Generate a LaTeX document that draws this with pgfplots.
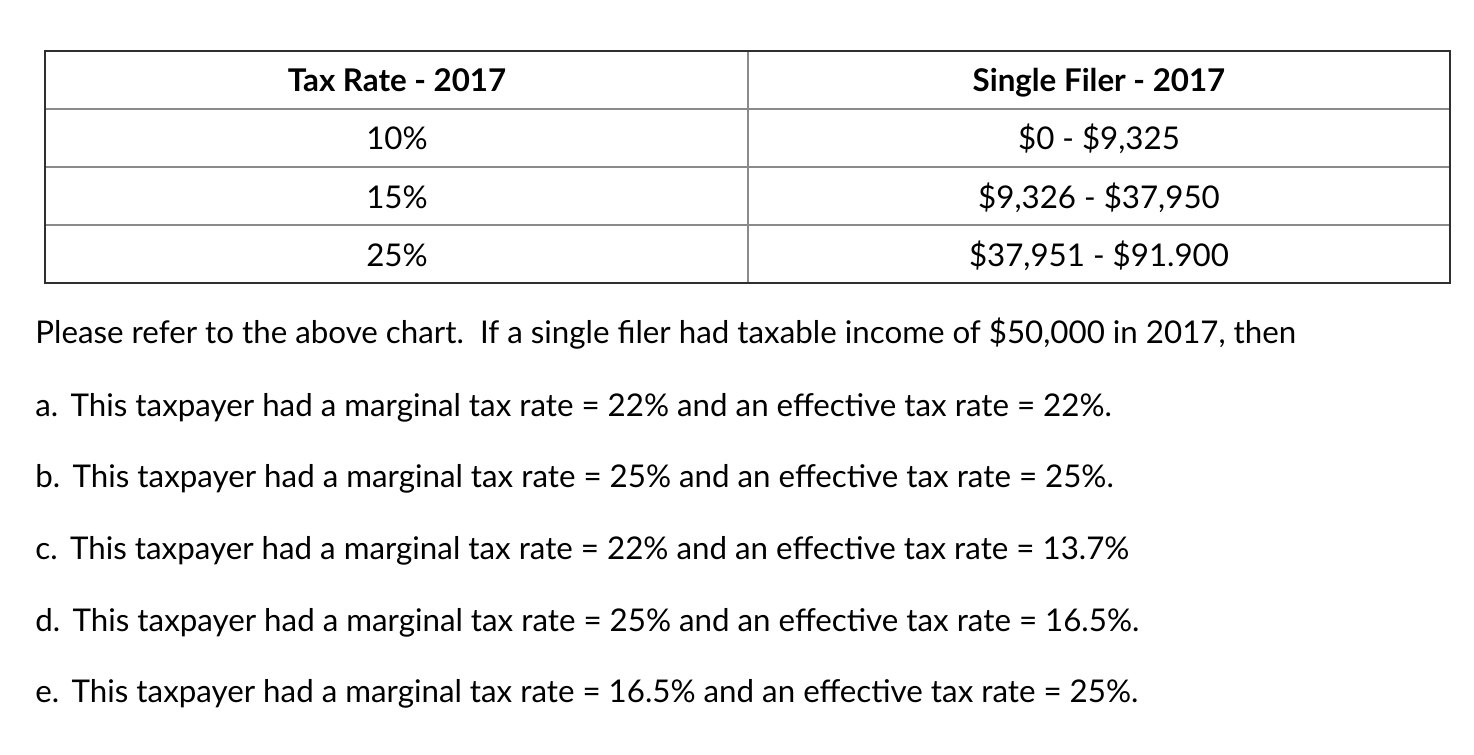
\documentclass[border=0pt]{standalone}
\usepackage{pgfplots}
\pgfplotsset{compat=1.18}
\usepackage{fontspec}
\setmainfont{Lato}
\definecolor{txt}{HTML}{2D3B45}
\definecolor{rulec}{HTML}{8A8A8A}
\definecolor{framec}{HTML}{2F2F2F}
\newcommand{\fs}{\fontsize{15.65}{18}\selectfont}
\newcommand{\gap}{\hspace{6.2pt}}
\begin{document}
\begin{tikzpicture}
\begin{axis}[
 width=737pt, height=377pt, scale only axis,
 xmin=0, xmax=1474, ymin=0, ymax=754, y dir=reverse,
 axis lines=none, clip=false,
 every node/.style={text=txt},
]
\path (axis cs:0,0) rectangle (axis cs:1474,754);
% inner rules
\addplot[rulec, line width=0.8pt, mark=none] coordinates {(45,109) (1450,109)};
\addplot[rulec, line width=0.8pt, mark=none] coordinates {(45,167) (1450,167)};
\addplot[rulec, line width=0.8pt, mark=none] coordinates {(45,225) (1450,225)};
\addplot[rulec, line width=0.8pt, mark=none] coordinates {(748,51) (748,283)};
% outer frame
\addplot[framec, line width=1pt, mark=none, line cap=rect] coordinates {(45,51) (1450,51) (1450,283) (45,283) (45,51)};
% header
\node[anchor=base, font=\fs\bfseries] at (axis cs:397,92) {Tax Rate - 2017};
\node[anchor=base, font=\fs\bfseries] at (axis cs:1099,92) {Single Filer - 2017};
\node[anchor=base, font=\fs] at (axis cs:397,150) {10\%};
\node[anchor=base, font=\fs] at (axis cs:1099,150) {\$0 - \$9,325};
\node[anchor=base, font=\fs] at (axis cs:397,208) {15\%};
\node[anchor=base, font=\fs] at (axis cs:1099,208) {\$9,326 - \$37,950};
\node[anchor=base, font=\fs] at (axis cs:397,266) {25\%};
\node[anchor=base, font=\fs] at (axis cs:1099,266) {\$37,951 - \$91.900};
% question
\node[anchor=base west, inner xsep=0pt, font=\fs] at (axis cs:35,343) {Please refer to the above chart.\ \ If a single filer had taxable income of \$50,000 in 2017, then};
\node[anchor=base west, inner xsep=0pt, font=\fs] at (axis cs:35,416) {a.\gap This taxpayer had a marginal tax rate = 22\% and an effective tax rate = 22\%.};
\node[anchor=base west, inner xsep=0pt, font=\fs] at (axis cs:35,487) {b.\gap This taxpayer had a marginal tax rate = 25\% and an effective tax rate = 25\%.};
\node[anchor=base west, inner xsep=0pt, font=\fs] at (axis cs:35,559) {c.\gap This taxpayer had a marginal tax rate = 22\% and an effective tax rate = 13.7\%};
\node[anchor=base west, inner xsep=0pt, font=\fs] at (axis cs:35,631) {d.\gap This taxpayer had a marginal tax rate = 25\% and an effective tax rate = 16.5\%.};
\node[anchor=base west, inner xsep=0pt, font=\fs] at (axis cs:35,702) {e.\gap This taxpayer had a marginal tax rate = 16.5\% and an effective tax rate = 25\%.};
\end{axis}
\end{tikzpicture}
\end{document}
